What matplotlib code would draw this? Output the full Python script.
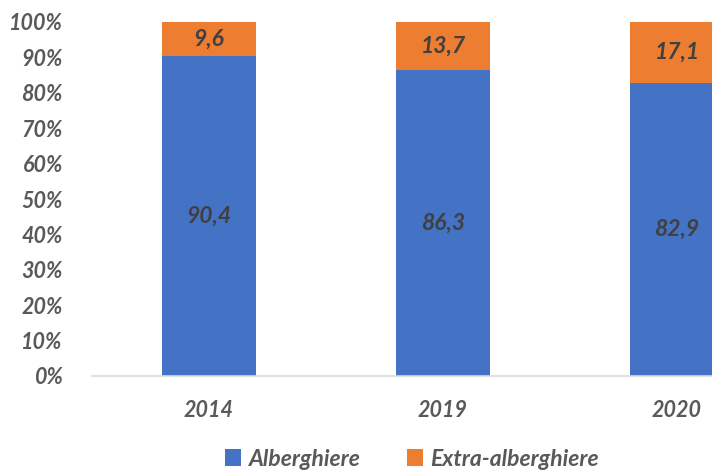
import matplotlib
matplotlib.use("Agg")
import matplotlib.pyplot as plt
from matplotlib.ticker import PercentFormatter

years = ["2014", "2019", "2020"]
alberghiere = [90.4, 86.3, 82.9]
extra = [9.6, 13.7, 17.1]
series_names = ["Alberghiere", "Extra-alberghiere"]

blue = "#4472C4"
orange = "#ED7D31"
tick_col = "#595959"
lab_col = "#404040"

plt.rcParams['font.family'] = ['Lato', 'DejaVu Sans']

fig = plt.figure(figsize=(7.12, 4.71), dpi=100)
W, H = 712, 471
left, right_px = 92, 92 + 3 * 234
bottom_px, top_px = 376, 22
ax = fig.add_axes([left / W, 1 - bottom_px / H, (right_px - left) / W, (bottom_px - top_px) / H])

x = list(range(len(years)))
bw = 0.405
b1 = ax.bar(x, alberghiere, width=bw, color=blue, label=series_names[0], zorder=2)
b2 = ax.bar(x, extra, width=bw, bottom=alberghiere, color=orange, label=series_names[1], zorder=2)

for i in x:
    ax.text(i, alberghiere[i] / 2, f"{alberghiere[i]:.1f}".replace(".", ","), ha="center", va="center",
            fontsize=16.5, fontweight="bold", fontstyle="italic", color=lab_col)
    ax.text(i, alberghiere[i] + extra[i] / 2, f"{extra[i]:.1f}".replace(".", ","), ha="center", va="center",
            fontsize=16.5, fontweight="bold", fontstyle="italic", color=lab_col)

ax.set_xlim(-0.5, 2.5)
ax.set_ylim(0, 100)
ax.set_yticks(range(0, 101, 10))
ax.yaxis.set_major_formatter(PercentFormatter(decimals=0))
ax.set_xticks(x)
ax.set_xticklabels(years)
for s in ["top", "right", "left"]:
    ax.spines[s].set_visible(False)
ax.spines["bottom"].set_color("#D9D9D9")
ax.spines["bottom"].set_linewidth(1.2)
ax.tick_params(axis="both", length=0, colors=tick_col, labelsize=15.5)
ax.tick_params(axis="y", pad=21)
ax.tick_params(axis="x", pad=17)
for lab in ax.get_xticklabels() + ax.get_yticklabels():
    lab.set_fontweight("bold")
    lab.set_fontstyle("italic")

leg = fig.legend(handles=[b1, b2], labels=series_names, loc="center", bbox_to_anchor=(412 / W, 1 - 459 / H),
                 ncol=2, frameon=False, fontsize=16.5, handlelength=0.7, handleheight=0.7,
                 handletextpad=0.35, columnspacing=2.0, borderpad=0.1)
for t in leg.get_texts():
    t.set_fontweight("bold")
    t.set_fontstyle("italic")
    t.set_color(tick_col)

fig.savefig("out.png", dpi=100)
